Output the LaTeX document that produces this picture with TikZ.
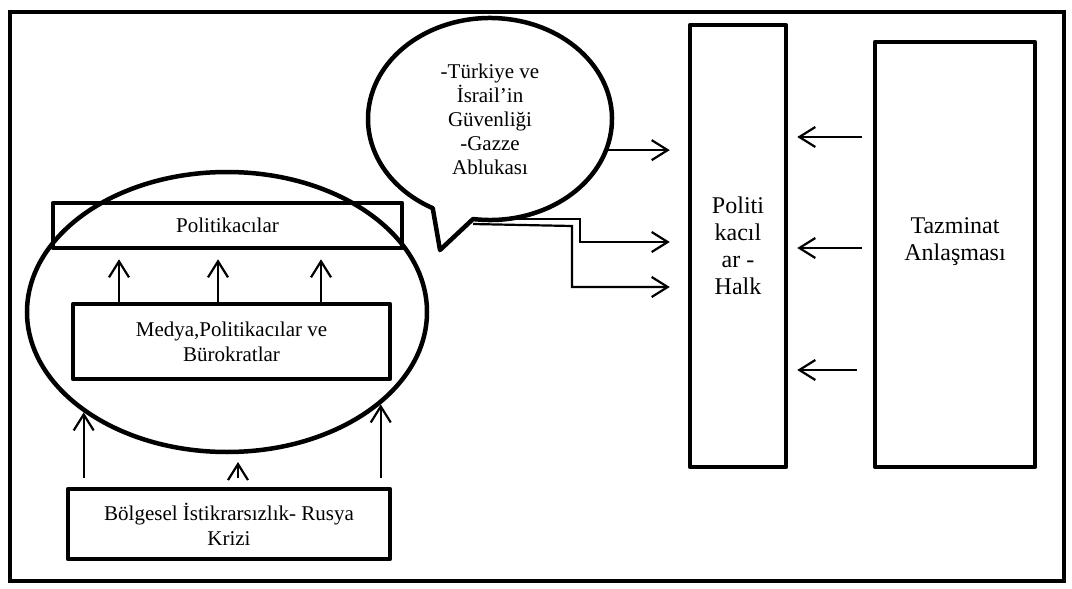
\documentclass[tikz,border=0pt]{standalone}
\usepackage{fontspec}
\setmainfont{Liberation Serif}
\usetikzlibrary{positioning,arrows.meta,shapes.geometric}

\tikzset{
  box/.style={draw, line width=4.5pt, line join=round, align=center, inner sep=0pt,
    font=\fontsize{21}{25}\selectfont},
  tallbox/.style={box, font=\fontsize{24}{27}\selectfont},
  arr/.style={line width=2.2pt, -{Straight Barb[length=16pt,width=20pt]}},
}

\begin{document}
\begin{tikzpicture}[x=1pt, y=-1pt]
  \useasboundingbox (0,0) rectangle (1072,589);
  \draw[line width=4.5pt] (10,12) rectangle (1064,581);
  % left part
  \node[draw, ellipse, line width=4.5pt, minimum width=400pt, minimum height=280pt] (circ) at (227,312) {};
  \node[box, minimum width=349pt, minimum height=45pt] (pol) at (227.5,225.5) {Politikacılar};
  \node[box, minimum width=317pt, minimum height=75pt] (med) at (231.5,341.5) {Medya,Politikacılar ve\\Bürokratlar};
  \node[box, minimum width=322pt, minimum height=70pt] (bol) at (229,524) {Bölgesel İstikrarsızlık- Rusya\\Krizi};
  \coordinate (polB) at ([yshift=-9pt]pol.south);
  \foreach \x in {119,218,321}
    \draw[arr] (\x,0 |- med.north) -- (\x,0 |- polB);
  \coordinate (bolT) at ([yshift=9pt]bol.north);
  \draw[arr] (bolT -| circ.215) -- (circ.215);
  \draw[arr] (238,0 |- bolT) -- (238,462);
  \draw[arr] (bolT -| circ.-31) -- (circ.-31);
  % speech bubble
  \node[ellipse, minimum width=244pt, minimum height=202pt, align=center,
    font=\fontsize{21}{24}\selectfont] (bub) at (490,119)
    {-Türkiye ve\\İsrail’in\\Güvenliği\\-Gazze\\Ablukası};
  \draw[line width=4.5pt, line join=round] (bub.center) ++(262:122pt and 101pt) coordinate (tailR)
    arc[start angle=262, end angle=602, x radius=122pt, y radius=101pt]
    -- (440,250) coordinate (tip) -- cycle;
  % right part
  \node[tallbox, minimum width=96pt, minimum height=442pt] (hp) at (738,246) {Politi\\kacıl\\ar -\\Halk};
  \node[tallbox, minimum width=160pt, minimum height=425pt] (taz) at (955,254.5)
    {\raisebox{13pt}[\height][\depth]{\begin{tabular}{@{}c@{}}Tazminat\\Anlaşması\end{tabular}}};
  \coordinate (hpL) at ([xshift=-18pt]hp.west);
  \coordinate (hpR) at ([xshift=9pt]hp.east);
  \coordinate (tazL) at ([xshift=-11pt]taz.west);
  \draw[arr] (bub.-15) -- (bub.-15 -| hpL);
  \draw[arr] (tailR) -- (580,0 |- tailR) |- (hpL |- 0,242);
  \draw[arr] ([yshift=-5pt]tailR) -- (572,226) |- (hpL |- 0,287);
  \foreach \y in {137,248}
    \draw[arr] (tazL |- 0,\y) -- (hpR |- 0,\y);
  \draw[arr] (857,370) -- (hpR |- 0,370);
\end{tikzpicture}
\end{document}
